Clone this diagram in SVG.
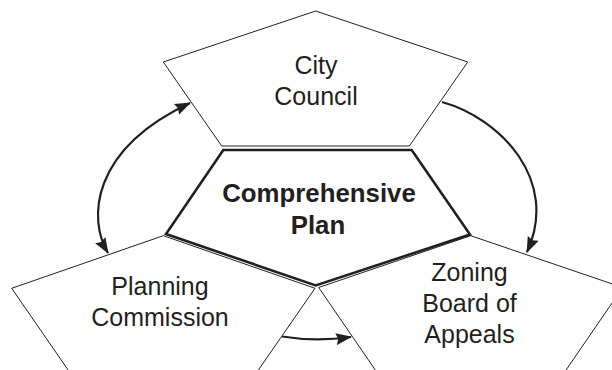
<svg xmlns="http://www.w3.org/2000/svg" width="612" height="370" viewBox="0 0 612 370">
<style>
.outer{fill:#fff;stroke:#231f20;stroke-width:1}
.inner{fill:#fff;stroke:#231f20;stroke-width:2.6;stroke-linejoin:miter}
.lbl{font-family:"Liberation Sans",Arial,sans-serif;font-size:25px;fill:#231f20;text-anchor:middle}
.bold{font-weight:bold;font-size:25.8px}
.conn{fill:none;stroke:#231f20;stroke-width:2.2}
</style>
<defs>
<marker id="ah" viewBox="0 0 16 12" refX="15" refY="6" markerWidth="16" markerHeight="12" markerUnits="userSpaceOnUse" orient="auto-start-reverse">
<path d="M0,0 L16,6 L0,12 L2,6 z" fill="#231f20"/>
</marker>
</defs>
<rect width="612" height="370" fill="#fff"/>
<g id="city-council">
<polygon class="outer" points="315.7,11 467.7,62 409.3,146 221.7,146 163.3,62"/>
<text class="lbl" x="316" y="73.5">City</text>
<text class="lbl" x="316" y="104.5">Council</text>
</g>
<g id="planning-commission">
<polygon class="outer" points="163.3,235.7 315,288.3 257,372 69.5,372 11.7,288.3"/>
<text class="lbl" x="160" y="295">Planning</text>
<text class="lbl" x="160" y="326">Commission</text>
</g>
<g id="zoning-board">
<polygon class="outer" points="470.7,235.7 622.7,287.5 564.7,372 376.7,372 318.7,287.5"/>
<text class="lbl" x="469.5" y="281">Zoning</text>
<text class="lbl" x="469.5" y="312">Board of</text>
<text class="lbl" x="469.5" y="343">Appeals</text>
</g>
<g id="comprehensive-plan">
<polygon class="inner" points="223.3,150 411.7,150 470,234.5 315.7,285.5 166,234"/>
<text class="lbl bold" x="319" y="202">Comprehensive</text>
<text class="lbl bold" x="318" y="234">Plan</text>
</g>
<g id="connectors">
<path class="conn" d="M108,253 C88,220 90,150 190,103" marker-start="url(#ah)" marker-end="url(#ah)"/>
<path class="conn" d="M442,102 C500,118 560,180 527,252" marker-end="url(#ah)"/>
<path class="conn" d="M282,336.5 Q316,342 351,337" marker-end="url(#ah)"/>
</g>
</svg>
